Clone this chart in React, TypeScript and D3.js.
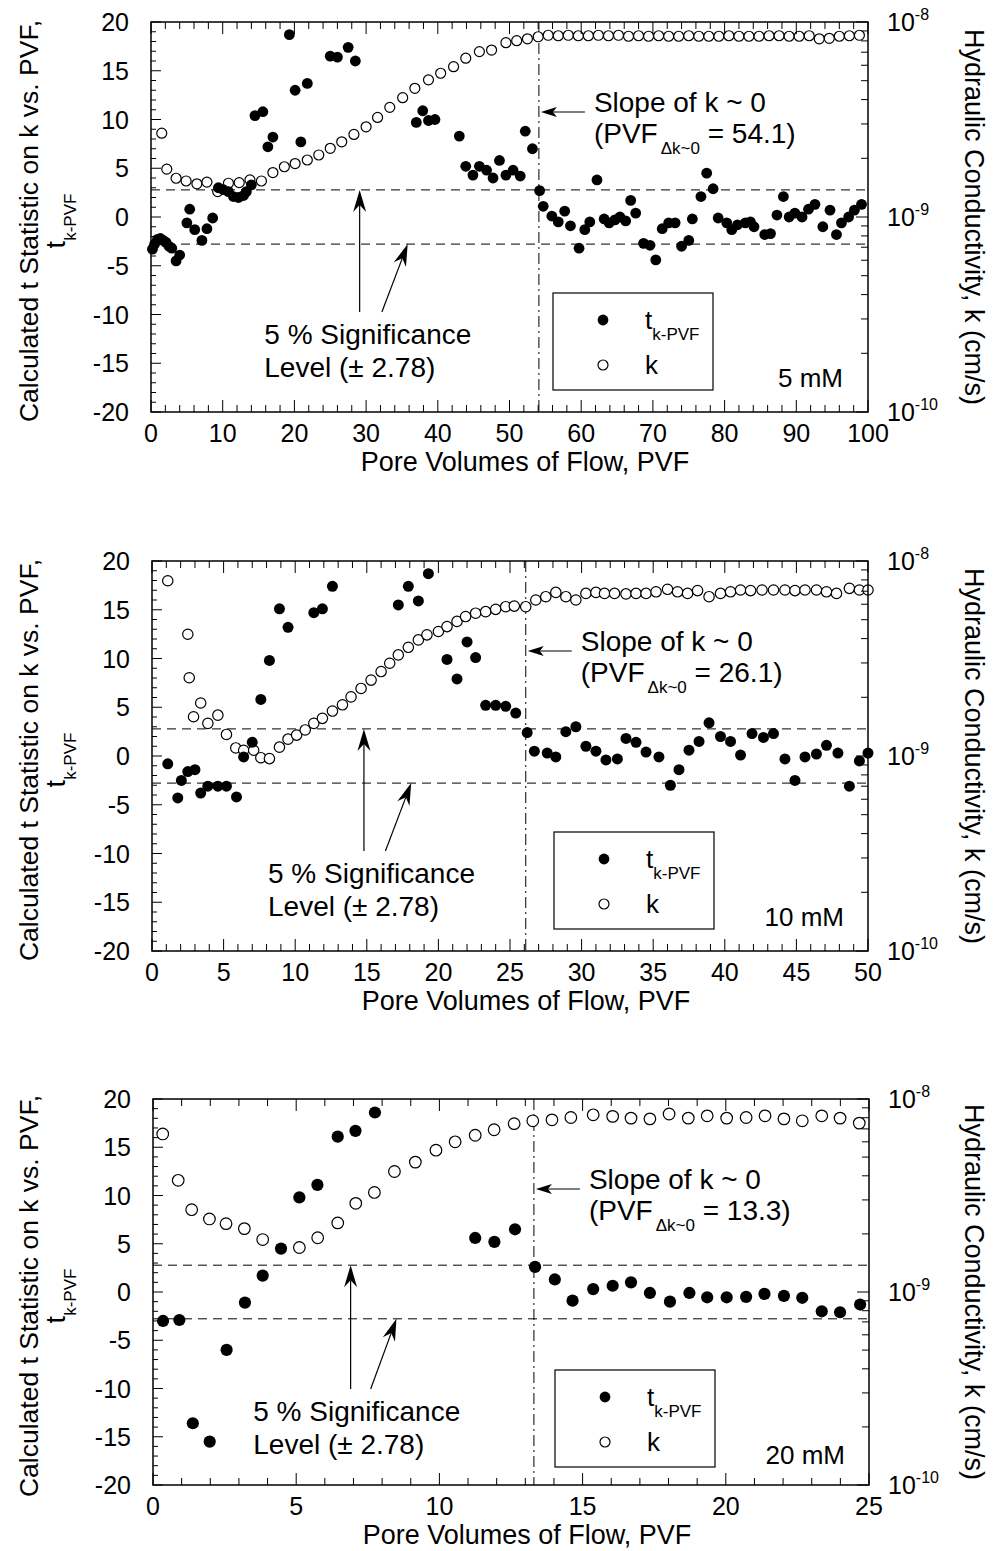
import React from 'react';
import * as d3 from 'd3';

const FONT = "'Liberation Sans', Arial, Helvetica, sans-serif";

// ---------- Panel 1 (5 mM) ----------
const p1TX = [0.2,0.5,0.9,1.3,1.7,2.1,2.5,2.9,3.5,4.0,5.0,5.4,6.1,7.1,7.8,8.6,9.4,10.1,10.8,11.5,12.2,12.9,13.3,14.0,14.5,15.6,16.3,17.0,19.3,20.1,20.9,21.8,25.0,26.0,27.5,28.5,37.0,37.9,38.7,39.6,43.0,43.9,44.9,45.8,46.8,47.7,48.6,49.5,50.5,51.5,52.2,53.2,54.2,54.7,55.9,56.8,57.7,58.5,59.7,60.5,61.2,62.2,63.2,63.9,64.7,65.4,66.2,66.9,67.6,68.7,69.6,70.4,71.3,72.2,73.1,74.0,75.0,75.5,76.7,77.5,78.4,79.1,80.3,81.0,81.8,82.9,83.6,84.1,85.6,86.4,87.3,88.2,89.0,89.8,90.8,91.7,92.6,93.7,94.7,95.6,96.3,97.3,98.1,99.1];
const p1T = [-3.3,-2.8,-2.3,-2.2,-2.4,-2.6,-3.0,-3.2,-4.5,-3.9,-0.6,0.8,-1.3,-2.4,-1.2,-0.1,3.0,2.8,2.6,2.1,2.0,2.2,2.6,3.3,10.4,10.8,7.2,8.2,18.7,13.0,7.7,13.7,16.5,16.4,17.4,16.0,9.7,10.9,9.9,10.0,8.3,5.2,4.3,5.2,4.8,4.0,5.8,4.3,4.8,4.2,8.8,7.0,2.7,1.1,0.1,-0.5,0.6,-0.9,-3.2,-1.3,-0.5,3.8,-0.2,-0.6,-0.3,0.0,-0.4,1.7,0.4,-2.7,-2.9,-4.4,-1.2,-0.6,-0.6,-3.0,-2.4,-0.2,2.1,4.5,2.9,-0.1,-0.6,-1.3,-0.8,-0.6,-0.5,-1.0,-1.8,-1.7,0.2,2.1,0.0,0.4,0.0,0.8,1.3,-1.0,0.7,-1.8,-0.6,0.0,0.7,1.3];
// k in units of 1e-9 cm/s
const p1KX = [1.5,2.2,3.5,4.9,6.4,7.8,9.3,10.8,12.3,13.8,15.4,17.0,18.6,20.1,21.8,23.4,25.0,26.6,28.3,30.0,31.6,33.3,35.1,36.8,38.7,40.4,42.2,43.9,45.8,47.5,49.5,51.0,52.5,54.0,55.4,56.8,58.2,59.6,61.0,62.4,63.8,65.2,66.6,68.0,69.4,70.8,72.2,73.6,75.0,76.4,77.8,79.2,80.6,82.0,83.4,84.8,86.2,87.6,89.0,90.4,91.8,93.2,94.6,96.0,97.4,98.8];
const p1K = [2.69,1.76,1.58,1.53,1.48,1.51,1.35,1.49,1.50,1.55,1.53,1.69,1.81,1.88,1.96,2.08,2.25,2.43,2.65,2.90,3.24,3.65,4.09,4.57,5.05,5.46,5.90,6.52,7.05,7.18,7.83,8.02,8.2,8.4,8.55,8.5,8.55,8.5,8.5,8.55,8.5,8.55,8.45,8.5,8.45,8.5,8.45,8.45,8.5,8.45,8.45,8.45,8.5,8.45,8.45,8.45,8.5,8.5,8.45,8.45,8.5,8.2,8.25,8.45,8.5,8.55];

// ---------- Panel 2 (10 mM) ----------
const p2TX = [1.1,1.8,2.05,2.5,3.0,3.4,3.9,4.6,5.2,5.9,6.4,7.0,7.6,8.2,8.9,9.5,11.3,11.9,12.6,17.2,17.9,18.6,19.3,20.6,21.3,22.0,22.6,23.3,24.0,24.7,25.4,26.2,26.7,27.6,28.2,28.9,29.6,30.3,31.0,31.7,32.5,33.1,33.8,34.5,35.4,36.2,36.8,37.5,38.2,38.9,39.7,40.4,41.1,41.9,42.7,43.4,44.2,44.9,45.6,46.4,47.1,47.9,48.7,49.4,50.0];
const p2T = [-0.8,-4.3,-2.5,-1.6,-1.4,-3.8,-3.1,-3.1,-3.1,-4.2,-0.1,1.4,5.8,9.8,15.1,13.2,14.7,15.1,17.4,15.5,17.4,15.9,18.7,9.9,7.9,11.7,10.1,5.2,5.2,5.1,4.4,2.4,0.5,0.3,-0.1,2.5,3.0,1.0,0.5,-0.4,-0.3,1.8,1.4,0.4,-0.1,-3.0,-1.4,0.6,1.5,3.4,2.0,1.5,0.1,2.3,1.9,2.3,-0.3,-2.5,-0.1,0.2,1.1,0.3,-3.1,-0.5,0.3];
const p2KX = [1.1,2.5,2.6,2.9,3.4,3.9,4.6,5.2,5.85,6.4,7.1,7.6,8.2,8.9,9.5,10.1,10.7,11.3,11.9,12.6,13.3,13.9,14.6,15.3,16.0,16.6,17.2,17.9,18.6,19.2,20.0,20.6,21.3,21.9,22.6,23.3,24.0,24.7,25.3,26.1,26.8,27.5,28.2,28.9,29.6,30.3,31.0,31.6,32.3,33.1,33.8,34.5,35.2,36.0,36.7,37.4,38.1,38.9,39.7,40.4,41.1,41.8,42.6,43.4,44.2,44.9,45.6,46.4,47.1,47.8,48.7,49.4,50.0];
const p2K = [7.92,4.21,2.52,1.59,1.87,1.47,1.62,1.29,1.10,1.07,1.07,0.98,0.97,1.11,1.22,1.28,1.36,1.47,1.56,1.70,1.83,2.01,2.22,2.45,2.71,2.99,3.30,3.61,3.94,4.18,4.35,4.61,4.90,5.19,5.40,5.50,5.65,5.83,5.87,5.83,6.31,6.56,6.90,6.56,6.31,6.82,6.90,6.82,6.82,6.78,6.82,6.82,6.95,7.16,6.95,6.82,7.05,6.56,6.82,6.95,7.10,7.05,7.10,7.10,7.10,7.05,7.10,7.10,6.95,6.82,7.24,7.10,7.10];

// ---------- Panel 3 (20 mM) ----------
const p3TX = [0.35,0.92,1.39,1.98,2.57,3.21,3.83,4.47,5.11,5.74,6.45,7.07,7.75,11.25,11.92,12.64,13.34,14.03,14.65,15.37,16.05,16.69,17.35,18.05,18.73,19.35,20.03,20.71,21.35,22.03,22.67,23.35,23.99,24.69];
const p3T = [-3.0,-2.9,-13.6,-15.5,-6.0,-1.1,1.7,4.5,9.8,11.1,16.1,16.7,18.6,5.6,5.2,6.5,2.6,1.3,-0.9,0.3,0.65,1.0,-0.1,-1.0,-0.1,-0.55,-0.55,-0.5,-0.2,-0.4,-0.6,-2.0,-2.1,-1.3];
const p3KX = [0.34,0.88,1.35,1.97,2.55,3.19,3.83,5.11,5.75,6.45,7.08,7.73,8.43,9.16,9.88,10.55,11.25,11.91,12.61,13.26,13.93,14.59,15.37,16.05,16.69,17.35,18.02,18.69,19.35,20.03,20.71,21.37,22.03,22.67,23.35,23.99,24.66];
const p3K = [6.59,3.79,2.67,2.39,2.26,2.13,1.87,1.70,1.91,2.28,2.88,3.28,4.21,4.71,5.43,6.00,6.49,6.93,7.45,7.71,7.80,8.02,8.28,8.13,7.96,7.89,8.36,7.96,8.18,7.96,8.02,8.18,7.89,7.71,8.18,7.96,7.50];

const concLabels = ['5 mM', '10 mM', '20 mM'];
const slopePVF = [54.1, 26.1, 13.3];
const xMaxes = [100, 50, 25];
const tCrit = 2.78;
const rightTickLabels = [{ v: 10, e: '-8' }, { v: 1, e: '-9' }, { v: 0.1, e: '-10' }];

type Cfg = {
  top: number; h: number; left: number; right: number; xMax: number; xMajor: number; xMinor: number;
  tX: number[]; tY: number[]; kX: number[]; kY: number[]; slope: number; conc: string;
  vArrow: number; dFrom: number; dTo: number; sigX: number; rF: number; rO: number;
};

const PANELS: Cfg[] = [
  { top: 22, h: 390, left: 151, right: 868, xMax: xMaxes[0], xMajor: 10, xMinor: 2, tX: p1TX, tY: p1T, kX: p1KX, kY: p1K, slope: slopePVF[0], conc: concLabels[0], vArrow: 29.1, dFrom: 32.2, dTo: 35.8, sigX: 15.8, rF: 5.4, rO: 5 },
  { top: 561, h: 390, left: 152, right: 868, xMax: xMaxes[1], xMajor: 5, xMinor: 1, tX: p2TX, tY: p2T, kX: p2KX, kY: p2K, slope: slopePVF[1], conc: concLabels[1], vArrow: 14.8, dFrom: 16.3, dTo: 18.1, sigX: 8.1, rF: 5.5, rO: 5.2 },
  { top: 1099, h: 386, left: 153, right: 869, xMax: xMaxes[2], xMajor: 5, xMinor: 1, tX: p3TX, tY: p3T, kX: p3KX, kY: p3K, slope: slopePVF[2], conc: concLabels[2], vArrow: 6.9, dFrom: 7.6, dTo: 8.5, sigX: 3.5, rF: 6.1, rO: 5.8 },
];

function Arrow({ x1, y1, x2, y2, len = 22, half = 6.5, notch = 15 }: any) {
  const ang = Math.atan2(y2 - y1, x2 - x1);
  const ux = Math.cos(ang), uy = Math.sin(ang);
  const px = -uy, py = ux;
  const bx = x2 - ux * len, by = y2 - uy * len;
  const nx = x2 - ux * notch, ny = y2 - uy * notch;
  const d = `M${x2},${y2} L${bx + px * half},${by + py * half} L${nx},${ny} L${bx - px * half},${by - py * half} Z`;
  return (
    <g>
      <line x1={x1} y1={y1} x2={nx} y2={ny} stroke="#000" strokeWidth={1.2} />
      <path d={d} fill="#000" />
    </g>
  );
}

function Panel({ c }: { c: Cfg }) {
  const bottom = c.top + c.h;
  const x = d3.scaleLinear().domain([0, c.xMax]).range([c.left, c.right]);
  const y = d3.scaleLinear().domain([-20, 20]).range([bottom, c.top]);
  const yk = d3.scaleLog().domain([0.1, 10]).range([bottom, c.top]);
  const xTicks = d3.range(0, c.xMax + 1e-9, c.xMinor);
  const yTicks = d3.range(-20, 20.001, 1);
  const kTicks = yk.ticks();
  const xLabels = d3.range(0, c.xMax + 1e-9, c.xMajor);
  const yLabels = d3.range(-20, 20.001, 5);
  const isMajorX = (v: number) => Math.abs(v / c.xMajor - Math.round(v / c.xMajor)) < 1e-6;
  const sx = x(c.slope);
  const T = c.top;
  const midY = (c.top + bottom) / 2;

  return (
    <g>
      <line x1={c.left} x2={c.right} y1={y(tCrit)} y2={y(tCrit)} stroke="#000" strokeWidth={1} strokeDasharray="9,6" />
      <line x1={c.left} x2={c.right} y1={y(-tCrit)} y2={y(-tCrit)} stroke="#000" strokeWidth={1} strokeDasharray="9,6" />
      <line x1={sx} x2={sx} y1={c.top} y2={bottom} stroke="#000" strokeWidth={1} strokeDasharray="11,4,2,4" />

      {c.kX.map((v, i) => (
        <circle key={'k' + i} cx={x(v)} cy={yk(c.kY[i])} r={c.rO} fill="#fff" stroke="#000" strokeWidth={1.2} />
      ))}
      {c.tX.map((v, i) => (
        <circle key={'t' + i} cx={x(v)} cy={y(c.tY[i])} r={c.rF} fill="#000" />
      ))}

      <rect x={c.left} y={c.top} width={c.right - c.left} height={c.h} fill="none" stroke="#000" strokeWidth={1.5} />

      {xTicks.map((v, i) => {
        const L = isMajorX(v) ? 12 : 7;
        return (
          <g key={'xt' + i}>
            <line x1={x(v)} x2={x(v)} y1={bottom} y2={bottom - L} stroke="#000" strokeWidth={1} />
            <line x1={x(v)} x2={x(v)} y1={c.top} y2={c.top + L} stroke="#000" strokeWidth={1} />
          </g>
        );
      })}
      {yTicks.map((v, i) => {
        const L = Math.round(v) % 5 === 0 ? 10 : 5;
        return <line key={'yt' + i} x1={c.left} x2={c.left + L} y1={y(v)} y2={y(v)} stroke="#000" strokeWidth={1} />;
      })}
      {kTicks.map((v, i) => {
        const lg = Math.log10(v);
        const L = Math.abs(lg - Math.round(lg)) < 1e-6 ? 12 : 7;
        return <line key={'kt' + i} x1={c.right} x2={c.right - L} y1={yk(v)} y2={yk(v)} stroke="#000" strokeWidth={1} />;
      })}

      {xLabels.map((v, i) => (
        <text key={'xl' + i} x={x(v)} y={bottom + 30} textAnchor="middle" fontSize={25} fontFamily={FONT}>{v}</text>
      ))}
      {yLabels.map((v, i) => (
        <text key={'yl' + i} x={c.left - 22} y={y(v) + 9} textAnchor="end" fontSize={25} fontFamily={FONT}>{v}</text>
      ))}
      {rightTickLabels.map((d, i) => (
        <text key={'kl' + i} x={c.right + 19} y={yk(d.v) + 9} fontSize={25} fontFamily={FONT}>
          10<tspan fontSize={16} dy={-11}>{d.e}</tspan>
        </text>
      ))}

      <text x={c.left + 374} y={bottom + 59} textAnchor="middle" fontSize={27} fontFamily={FONT}>Pore Volumes of Flow, PVF</text>
      <text transform={`translate(38,${midY + 4}) rotate(-90)`} textAnchor="middle" fontSize={26.5} fontFamily={FONT}>Calculated t Statistic on k vs. PVF,</text>
      <text transform={`translate(65,${midY + 4}) rotate(-90)`} textAnchor="middle" fontSize={27} fontFamily={FONT}>
        t<tspan fontSize={17} dy={11}>k-PVF</tspan>
      </text>
      <text transform={`translate(965,${midY}) rotate(90)`} textAnchor="middle" fontSize={27} fontFamily={FONT}>Hydraulic Conductivity, k (cm/s)</text>

      <Arrow x1={sx + 46} y1={T + 90} x2={sx + 2} y2={T + 90} len={16} half={5} notch={12} />
      <text x={sx + 55} y={T + 90} fontSize={28} fontFamily={FONT}>Slope of k ~ 0</text>
      <text x={sx + 55} y={T + 121} fontSize={28} fontFamily={FONT}>
        (PVF<tspan fontSize={17} dx={3} dy={11}>Δk~0</tspan><tspan dy={-11}> = {c.slope.toFixed(1)})</tspan>
      </text>

      <Arrow x1={x(c.vArrow)} y1={T + 290} x2={x(c.vArrow)} y2={y(tCrit)} />
      <Arrow x1={x(c.dFrom)} y1={T + 290} x2={x(c.dTo)} y2={y(-tCrit)} />
      <text x={x(c.sigX)} y={T + 322} fontSize={28} fontFamily={FONT}>5 % Significance</text>
      <text x={x(c.sigX)} y={T + 355} fontSize={28} fontFamily={FONT}>Level (± 2.78)</text>

      <rect x={c.left + 402} y={T + 271} width={160} height={97} fill="#fff" stroke="#000" strokeWidth={1.2} />
      <circle cx={c.left + 452} cy={T + 298} r={5.4} fill="#000" />
      <text x={c.left + 494} y={T + 307} fontSize={26} fontFamily={FONT}>
        t<tspan fontSize={17} dy={11}>k-PVF</tspan>
      </text>
      <circle cx={c.left + 452} cy={T + 343} r={5} fill="#fff" stroke="#000" strokeWidth={1.2} />
      <text x={c.left + 494} y={T + 352} fontSize={26} fontFamily={FONT}>k</text>

      <text x={c.left + 692} y={T + 365} textAnchor="end" fontSize={26} fontFamily={FONT}>{c.conc}</text>
    </g>
  );
}

export default function App() {
  return (
    <svg width={1005} height={1551} style={{ position: 'absolute', left: 0, top: 0, background: '#fff' }}>
      <rect x={0} y={0} width={1005} height={1551} fill="#fff" />
      {PANELS.map((c, i) => <Panel key={i} c={c} />)}
    </svg>
  );
}
